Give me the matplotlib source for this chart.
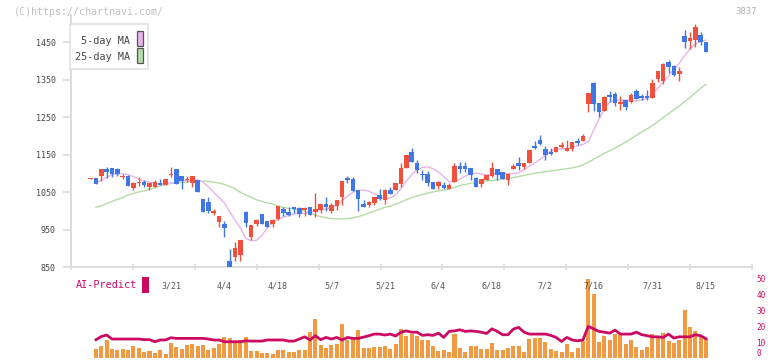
import numpy as np
import matplotlib
matplotlib.use("Agg")
import matplotlib.pyplot as plt
from matplotlib.patches import Rectangle

# ---- data (index -1 is the first candle, which has no volume bar) ----
opens = [1086, 1087, 1094, 1111, 1115, 1112, 1092, 1093, 1062, 1074, 1078, 1065, 1065, 1076, 1069,
         1097, 1112, 1093, 1083, 1075, 1083, 1032, 1024, 996, 972, 965, 867, 878, 883, 998,
         932, 965, 992, 973, 965, 980, 1006, 997, 1011, 1007, 1003, 1010, 997, 1003, 1019,
         1001, 1013, 1037, 1088, 1085, 1056, 1019, 1016, 1021, 1043, 1029, 1056, 1056, 1071, 1116,
         1157, 1129, 1100, 1098, 1077, 1067, 1069, 1059, 1077, 1120, 1120, 1115, 1088, 1072, 1083,
         1093, 1112, 1104, 1083, 1111, 1129, 1118, 1127, 1174, 1189, 1165, 1158, 1158, 1171, 1161,
         1165, 1188, 1188, 1285, 1341, 1288, 1268, 1309, 1312, 1285, 1296, 1291, 1320, 1307, 1307,
         1301, 1352, 1347, 1397, 1387, 1366, 1467, 1454, 1456, 1469, 1451]
highs = [1088, 1087, 1112, 1118, 1115, 1115, 1100, 1096, 1078, 1090, 1083, 1076, 1083, 1085, 1086,
         1118, 1112, 1093, 1093, 1093, 1083, 1032, 1037, 1005, 987, 973, 898, 917, 923, 1001,
         963, 979, 992, 973, 979, 1013, 1012, 1012, 1011, 1012, 1012, 1010, 1049, 1019, 1038,
         1021, 1029, 1081, 1093, 1091, 1056, 1029, 1028, 1038, 1059, 1058, 1065, 1076, 1129, 1149,
         1168, 1136, 1109, 1107, 1077, 1079, 1077, 1074, 1129, 1131, 1131, 1115, 1090, 1085, 1095,
         1131, 1112, 1104, 1102, 1125, 1145, 1129, 1163, 1187, 1203, 1173, 1167, 1172, 1184, 1189,
         1184, 1195, 1205, 1315, 1344, 1288, 1307, 1320, 1317, 1307, 1296, 1315, 1325, 1312, 1323,
         1352, 1373, 1396, 1403, 1389, 1385, 1483, 1477, 1499, 1477, 1451]
lows = [1086, 1073, 1081, 1087, 1090, 1093, 1085, 1068, 1056, 1067, 1065, 1056, 1065, 1069, 1069,
        1090, 1072, 1060, 1077, 1065, 1052, 998, 994, 989, 958, 932, 848, 868, 868, 957,
        923, 960, 965, 958, 958, 976, 987, 987, 996, 985, 987, 989, 983, 996, 1001,
        996, 1003, 1016, 1074, 1054, 1001, 1012, 1012, 1016, 1029, 1019, 1045, 1056, 1065, 1116,
        1132, 1101, 1083, 1068, 1058, 1060, 1058, 1058, 1077, 1101, 1105, 1083, 1065, 1065, 1083,
        1092, 1084, 1085, 1069, 1111, 1109, 1111, 1127, 1165, 1176, 1136, 1150, 1158, 1167, 1161,
        1161, 1176, 1188, 1265, 1268, 1252, 1268, 1291, 1280, 1270, 1270, 1288, 1299, 1296, 1296,
        1301, 1344, 1339, 1369, 1361, 1348, 1436, 1433, 1438, 1443, 1424]
closes = [1088, 1073, 1111, 1104, 1100, 1100, 1094, 1068, 1076, 1077, 1069, 1076, 1077, 1069, 1086,
          1100, 1072, 1081, 1086, 1093, 1052, 998, 1001, 1000, 987, 956, 848, 901, 923, 969,
          963, 976, 965, 958, 976, 1013, 996, 989, 1005, 992, 1007, 989, 1005, 1019, 1012,
          1016, 1029, 1081, 1083, 1054, 1033, 1012, 1025, 1038, 1033, 1056, 1045, 1074, 1114, 1149,
          1132, 1109, 1096, 1076, 1060, 1077, 1062, 1069, 1120, 1111, 1111, 1097, 1065, 1085, 1095,
          1115, 1096, 1085, 1099, 1120, 1120, 1129, 1163, 1169, 1179, 1150, 1153, 1172, 1176, 1168,
          1184, 1182, 1200, 1315, 1285, 1265, 1304, 1304, 1288, 1291, 1277, 1309, 1299, 1301, 1301,
          1341, 1373, 1392, 1385, 1364, 1373, 1452, 1461, 1491, 1451, 1424]

ma5 = [1076, 1082, 1090, 1097, 1099, 1099, 1097, 1092, 1085, 1080, 1077, 1074, 1072, 1073, 1074,
       1077, 1081, 1081, 1081, 1083, 1077, 1065, 1050, 1036, 1022, 998, 975, 955, 927, 921,
       922, 935, 955, 968, 978, 984, 988, 992, 995, 993, 997, 1001, 1003, 1005, 1010,
       1015, 1028, 1040, 1050, 1055, 1056, 1053, 1046, 1038, 1032, 1035, 1043, 1060, 1080, 1097,
       1110, 1116, 1118, 1113, 1104, 1092, 1078, 1078, 1085, 1093, 1099, 1101, 1099, 1096, 1098,
       1101, 1101, 1099, 1100, 1102, 1110, 1120, 1128, 1138, 1148, 1160, 1166, 1166, 1165, 1170,
       1174, 1178, 1185, 1215, 1245, 1272, 1290, 1296, 1296, 1296, 1295, 1294, 1296, 1300, 1312,
       1328, 1345, 1360, 1378, 1394, 1414, 1432, 1446, 1452, 1456]
ma25 = [1010, 1014, 1020, 1026, 1031, 1036, 1043, 1047, 1051, 1054, 1058, 1062, 1067, 1071, 1074,
        1076, 1076, 1077, 1079, 1080, 1080, 1079, 1077, 1075, 1071, 1066, 1059, 1050, 1043, 1037,
        1030, 1026, 1022, 1019, 1013, 1010, 1007, 1005, 1003, 1000, 995, 989, 985, 982, 980,
        979, 979, 980, 982, 985, 989, 995, 1000, 1005, 1010, 1013, 1018, 1024, 1030, 1036,
        1040, 1044, 1048, 1051, 1054, 1056, 1059, 1063, 1068, 1071, 1074, 1076, 1078, 1080, 1081,
        1083, 1085, 1087, 1089, 1092, 1095, 1098, 1101, 1103, 1105, 1107, 1109, 1111, 1113, 1115,
        1118, 1123, 1130, 1138, 1146, 1154, 1161, 1168, 1176, 1184, 1193, 1202, 1211, 1219, 1228,
        1238, 1250, 1260, 1270, 1280, 1292, 1303, 1315, 1327, 1338]

volume = [5.8, 7.5, 11.2, 5.6, 5.0, 5.6, 5.0, 7.5, 6.0, 3.7, 4.4, 3.1, 5.0, 2.5, 9.4,
          6.9, 5.6, 8.1, 8.7, 7.5, 8.1, 5.0, 6.2, 8.7, 13.1, 12.5, 10.6, 11.2, 13.1, 4.4,
          4.4, 3.1, 3.1, 2.5, 5.0, 5.0, 3.7, 3.7, 5.0, 5.0, 16.2, 24.4, 8.1, 6.2, 8.1,
          8.7, 21.2, 11.2, 12.5, 17.5, 6.2, 6.2, 6.9, 6.9, 7.5, 5.6, 8.5, 18.5, 13.5, 15.0,
          14.0, 11.0, 11.5, 7.3, 4.6, 5.2, 4.0, 15.2, 6.5, 4.0, 7.7, 7.7, 5.8, 5.8, 9.6,
          5.2, 5.2, 6.5, 7.7, 7.7, 4.0, 12.0, 12.7, 12.7, 10.2, 5.8, 4.6, 4.0, 9.0, 4.0,
          6.5, 10.8, 49.6, 40.2, 10.2, 14.0, 11.5, 15.2, 14.4, 9.0, 11.5, 7.1, 5.2, 7.1, 15.2,
          12.7, 15.8, 10.8, 9.6, 11.5, 30.2, 19.6, 17.1, 14.0, 12.0]
ai_predict = [11.5, 13.5, 14.4, 11.9, 11.9, 11.9, 11.9, 11.9, 11.9, 11.5, 11.5, 10.2, 11.3, 11.3, 12.7,
              12.3, 12.3, 12.3, 12.3, 12.3, 12.3, 11.9, 11.3, 11.3, 10.2, 10.2, 10.2, 10.2, 10.8, 10.6,
              10.6, 10.6, 11.3, 11.3, 11.3, 11.3, 10.6, 10.6, 11.9, 13.3, 11.3, 14.0, 11.5, 12.9, 11.9,
              12.9, 11.3, 12.9, 12.3, 12.3, 13.1, 14.0, 15.0, 15.0, 14.4, 15.0, 13.8, 16.2, 17.0, 16.2,
              16.2, 14.2, 14.6, 14.2, 15.6, 12.9, 16.7, 17.0, 17.7, 16.7, 17.0, 16.7, 16.2, 15.4, 18.3,
              16.7, 14.6, 14.6, 18.1, 19.2, 16.2, 15.0, 15.0, 15.0, 15.0, 14.2, 12.9, 10.4, 12.9, 11.3,
              10.8, 11.3, 19.8, 18.3, 16.7, 16.2, 15.6, 17.5, 15.0, 15.0, 15.0, 16.2, 14.6, 14.0, 13.3,
              13.3, 12.9, 15.0, 12.5, 13.3, 13.3, 13.3, 14.6, 14.0, 12.1]

date_labels = ["3/21", "4/4", "4/18", "5/7", "5/21", "6/4", "6/18", "7/2", "7/16", "7/31", "8/15"]
date_index = [14, 24, 34, 44, 54, 64, 74, 84, 93, 104, 114]

RED = "#F0503C"
BLUE = "#3F78E6"
PINK = "#E6B4EA"
GREEN = "#B4DCA6"
ORANGE = "#F29A42"
MAGENTA = "#CC0A62"
AXIS = "#DCDCDC"
MONO = "DejaVu Sans Mono"

W, H = 772, 361
fig = plt.figure(figsize=(W / 100, H / 100), dpi=100)
fig.patch.set_facecolor("white")


def fx(px):
    return px / W


def fy(py):
    return 1 - py / H


# ---- volume / AI-Predict panel (added first so it sits under the price panel) ----
av = fig.add_axes([fx(71), fy(358), fx(752) - fx(71), fy(275) - fy(358)])
av.patch.set_alpha(0)
xi = np.arange(len(ma5))
av.bar(xi, volume, 0.75, color=ORANGE, zorder=2)
av.plot(xi, ai_predict, color=MAGENTA, lw=2.0, zorder=3)
x_lo, x_hi = -4.67, 122.6
av.set_xlim(x_lo, x_hi)
av.set_ylim(0, 83 / 1.594)
for s in av.spines.values():
    s.set_visible(False)
av.set_xticks([])
av.yaxis.tick_right()
av.set_yticks([0, 10, 20, 30, 40, 50])
av.tick_params(axis="y", length=0, pad=3, labelsize=5.6, labelcolor=MAGENTA)
for t in av.get_yticklabels():
    t.set_family(MONO)
av.get_yticklabels()[0].set_verticalalignment("bottom")

# ---- price panel ----
ax = fig.add_axes([fx(71), fy(267.3), fx(752) - fx(71), fy(15) - fy(267.3)])
ax.patch.set_alpha(0)
xc = np.arange(-1, len(opens) - 1)
o = np.array(opens, float)
h = np.array(highs, float)
l = np.array(lows, float)
c = np.array(closes, float)
cols = np.where(c >= o, RED, BLUE)

ax.plot(xi, ma25, color=GREEN, lw=1.0, zorder=2)
ax.plot(xi, ma5, color=PINK, lw=1.0, zorder=2)
ax.vlines(xc, l, h, colors=cols, lw=1.0, zorder=3)
ax.bar(xc, np.maximum(np.abs(c - o), 2.6), 0.85, np.minimum(o, c), color=cols, zorder=4)

ax.set_xlim(x_lo, x_hi)
ax.set_ylim(850, 850 + 252.3 / 0.375)
for s in ["top", "right"]:
    ax.spines[s].set_visible(False)
for s in ["left", "bottom"]:
    ax.spines[s].set_color(AXIS)
    ax.spines[s].set_linewidth(1.4)
ax.set_yticks([850, 950, 1050, 1150, 1250, 1350, 1450])
ax.tick_params(axis="y", colors=AXIS, length=6, width=1.2, pad=5, labelsize=6, labelcolor="#444444")
ax.set_xticks(np.linspace(x_lo, x_hi, 12))
ax.set_xticklabels([])
ax.tick_params(axis="x", which="major", direction="inout", colors=AXIS, length=5, width=1.2)
ax.set_xticks(date_index, minor=True)
ax.set_xticklabels(date_labels, minor=True)
ax.tick_params(axis="x", which="minor", length=0, pad=10, labelsize=6, labelcolor="#555555")
for t in ax.get_yticklabels() + ax.get_xticklabels(minor=True):
    t.set_family(MONO)

# ---- legend and captions ----
fig.add_artist(Rectangle((fx(70), fy(69)), fx(78), 45 / H, transform=fig.transFigure,
                         facecolor="white", edgecolor="#E0E0E0", lw=1.2, zorder=10))
fig.add_artist(Rectangle((fx(137), fy(46)), fx(5.5), 15 / H, transform=fig.transFigure,
                         facecolor=PINK, edgecolor="#555555", lw=0.9, zorder=11))
fig.add_artist(Rectangle((fx(137), fy(63)), fx(5.5), 15 / H, transform=fig.transFigure,
                         facecolor=GREEN, edgecolor="#555555", lw=0.9, zorder=11))
fig.text(fx(130), fy(41), "5-day MA", ha="right", va="center", fontsize=7.3,
         family=MONO, color="#444444", zorder=12)
fig.text(fx(130), fy(57), "25-day MA", ha="right", va="center", fontsize=7.3,
         family=MONO, color="#444444", zorder=12)

fig.text(fx(14), fy(12), "(C)https://chartnavi.com/", ha="left", va="center", fontsize=7.2,
         family=MONO, color="#C0C0C0")
fig.text(fx(757), fy(12), "3837", ha="right", va="center", fontsize=6.5,
         family=MONO, color="#B0B0B0")

fig.text(fx(76), fy(285.5), "AI-Predict", ha="left", va="center", fontsize=7.3,
         family=MONO, color=MAGENTA)
fig.add_artist(Rectangle((fx(142), fy(292.5)), fx(7), 15.5 / H, transform=fig.transFigure,
                         facecolor=MAGENTA, edgecolor="none"))

fig.savefig("out.png", dpi=100)
